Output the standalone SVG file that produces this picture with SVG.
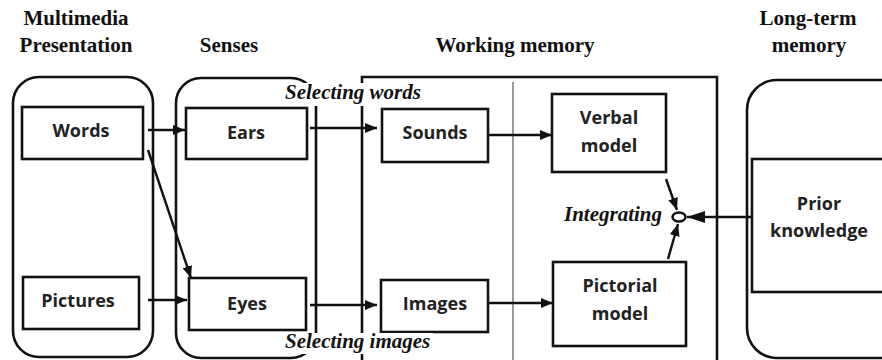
<svg xmlns="http://www.w3.org/2000/svg" width="882" height="360" viewBox="0 0 882 360">
<defs>
<style>
.box{fill:none;stroke:#111;stroke-width:2.6}
.node{fill:#fff;stroke:#111;stroke-width:2.6}
.thin{stroke:#777;stroke-width:1.5;fill:none}
.hdr{font-family:"Liberation Serif","Times New Roman",serif;font-weight:bold;font-size:21px;fill:#111;text-anchor:middle}
.lbl{font-family:"Liberation Serif","Times New Roman",serif;font-weight:bold;font-style:italic;font-size:21px;fill:#111}
.txt{font-family:"Open Sans","Noto Sans",sans-serif;font-weight:bold;font-size:18px;fill:#222;text-anchor:middle}
.con{stroke:#111;stroke-width:2.4;fill:none}
</style>
<marker id="ah" markerUnits="userSpaceOnUse" markerWidth="12" markerHeight="10" refX="12" refY="5" orient="auto">
<path d="M0,0 L12,5 L0,10 z" fill="#111"/>
</marker>
<marker id="ahL" markerUnits="userSpaceOnUse" markerWidth="18" markerHeight="12" refX="18" refY="6" orient="auto">
<path d="M0,0 L18,6 L0,12 z" fill="#111"/>
</marker>
</defs>
<rect width="882" height="360" fill="#fff"/>

<g id="headers">
<text class="hdr" x="76" y="25">Multimedia</text>
<text class="hdr" x="76" y="52">Presentation</text>
<text class="hdr" x="229" y="52">Senses</text>
<text class="hdr" x="515" y="52">Working memory</text>
<text class="hdr" x="808" y="25">Long-term</text>
<text class="hdr" x="809" y="52">memory</text>
</g>

<g id="multimedia-presentation">
<rect class="box" x="13" y="77" width="140" height="280" rx="26"/>
</g>
<g id="senses">
<rect class="box" x="176" y="78" width="140" height="280" rx="25"/>
</g>
<g id="working-memory">
<path class="box" d="M362,380 V77 H717 V380"/>
<line class="thin" x1="513" y1="82" x2="513" y2="362"/>
</g>
<g id="long-term-memory">
<rect class="box" x="747" y="80" width="180" height="278" rx="30"/>
</g>

<g id="words">
<rect class="node" x="22" y="107" width="121" height="52"/>
<text class="txt" x="81" y="137">Words</text>
</g>
<g id="pictures">
<rect class="node" x="23" y="277" width="116" height="52"/>
<text class="txt" x="78" y="307">Pictures</text>
</g>
<g id="ears">
<rect class="node" x="186" y="108" width="121" height="51"/>
<text class="txt" x="246" y="139">Ears</text>
</g>
<g id="eyes">
<rect class="node" x="189" y="278" width="117" height="52"/>
<text class="txt" x="247" y="310">Eyes</text>
</g>
<g id="sounds">
<rect class="node" x="382" y="109" width="106" height="53"/>
<text class="txt" x="435" y="139">Sounds</text>
</g>
<g id="images">
<rect class="node" x="381" y="280" width="107" height="52"/>
<text class="txt" x="435" y="310">Images</text>
</g>
<g id="verbal-model">
<rect class="node" x="552" y="94" width="114" height="78"/>
<text class="txt" x="609" y="124">Verbal</text>
<text class="txt" x="609" y="152">model</text>
</g>
<g id="pictorial-model">
<rect class="node" x="553" y="262" width="133" height="84"/>
<text class="txt" x="620" y="292">Pictorial</text>
<text class="txt" x="620" y="320">model</text>
</g>
<g id="prior-knowledge">
<rect class="node" x="752" y="159" width="160" height="133"/>
<text class="txt" x="819" y="210">Prior</text>
<text class="txt" x="819" y="237">knowledge</text>
</g>
<g id="integrating">
<ellipse cx="679" cy="217" rx="6.5" ry="4.5" fill="#fff" stroke="#111" stroke-width="2.5"/>
<text class="lbl" x="662" y="221" text-anchor="end">Integrating</text>
</g>

<g id="connectors">
<line class="con" x1="148" y1="130" x2="185" y2="130" marker-end="url(#ah)"/>
<line class="con" x1="148" y1="150" x2="191" y2="278" marker-end="url(#ah)"/>
<line class="con" x1="148" y1="300" x2="187" y2="300" marker-end="url(#ah)"/>
<line class="con" x1="310" y1="128" x2="377" y2="128" marker-end="url(#ah)"/>
<line class="con" x1="310" y1="305" x2="377" y2="305" marker-end="url(#ah)"/>
<line class="con" x1="488" y1="135" x2="552" y2="135" marker-end="url(#ah)"/>
<line class="con" x1="488" y1="303" x2="553" y2="303" marker-end="url(#ah)"/>
<line class="con" x1="666" y1="179" x2="677" y2="210" marker-end="url(#ah)"/>
<line class="con" x1="668" y1="259" x2="678" y2="224" marker-end="url(#ah)"/>
<line class="con" x1="752" y1="217" x2="687" y2="217" marker-end="url(#ahL)"/>
</g>

<g id="selecting-labels">
<rect x="283" y="83" width="143" height="23" fill="#fff"/>
<text class="lbl" x="285" y="99">Selecting words</text>
<rect x="283" y="333" width="150" height="21" fill="#fff"/>
<text class="lbl" x="285" y="348">Selecting images</text>
</g>
</svg>
